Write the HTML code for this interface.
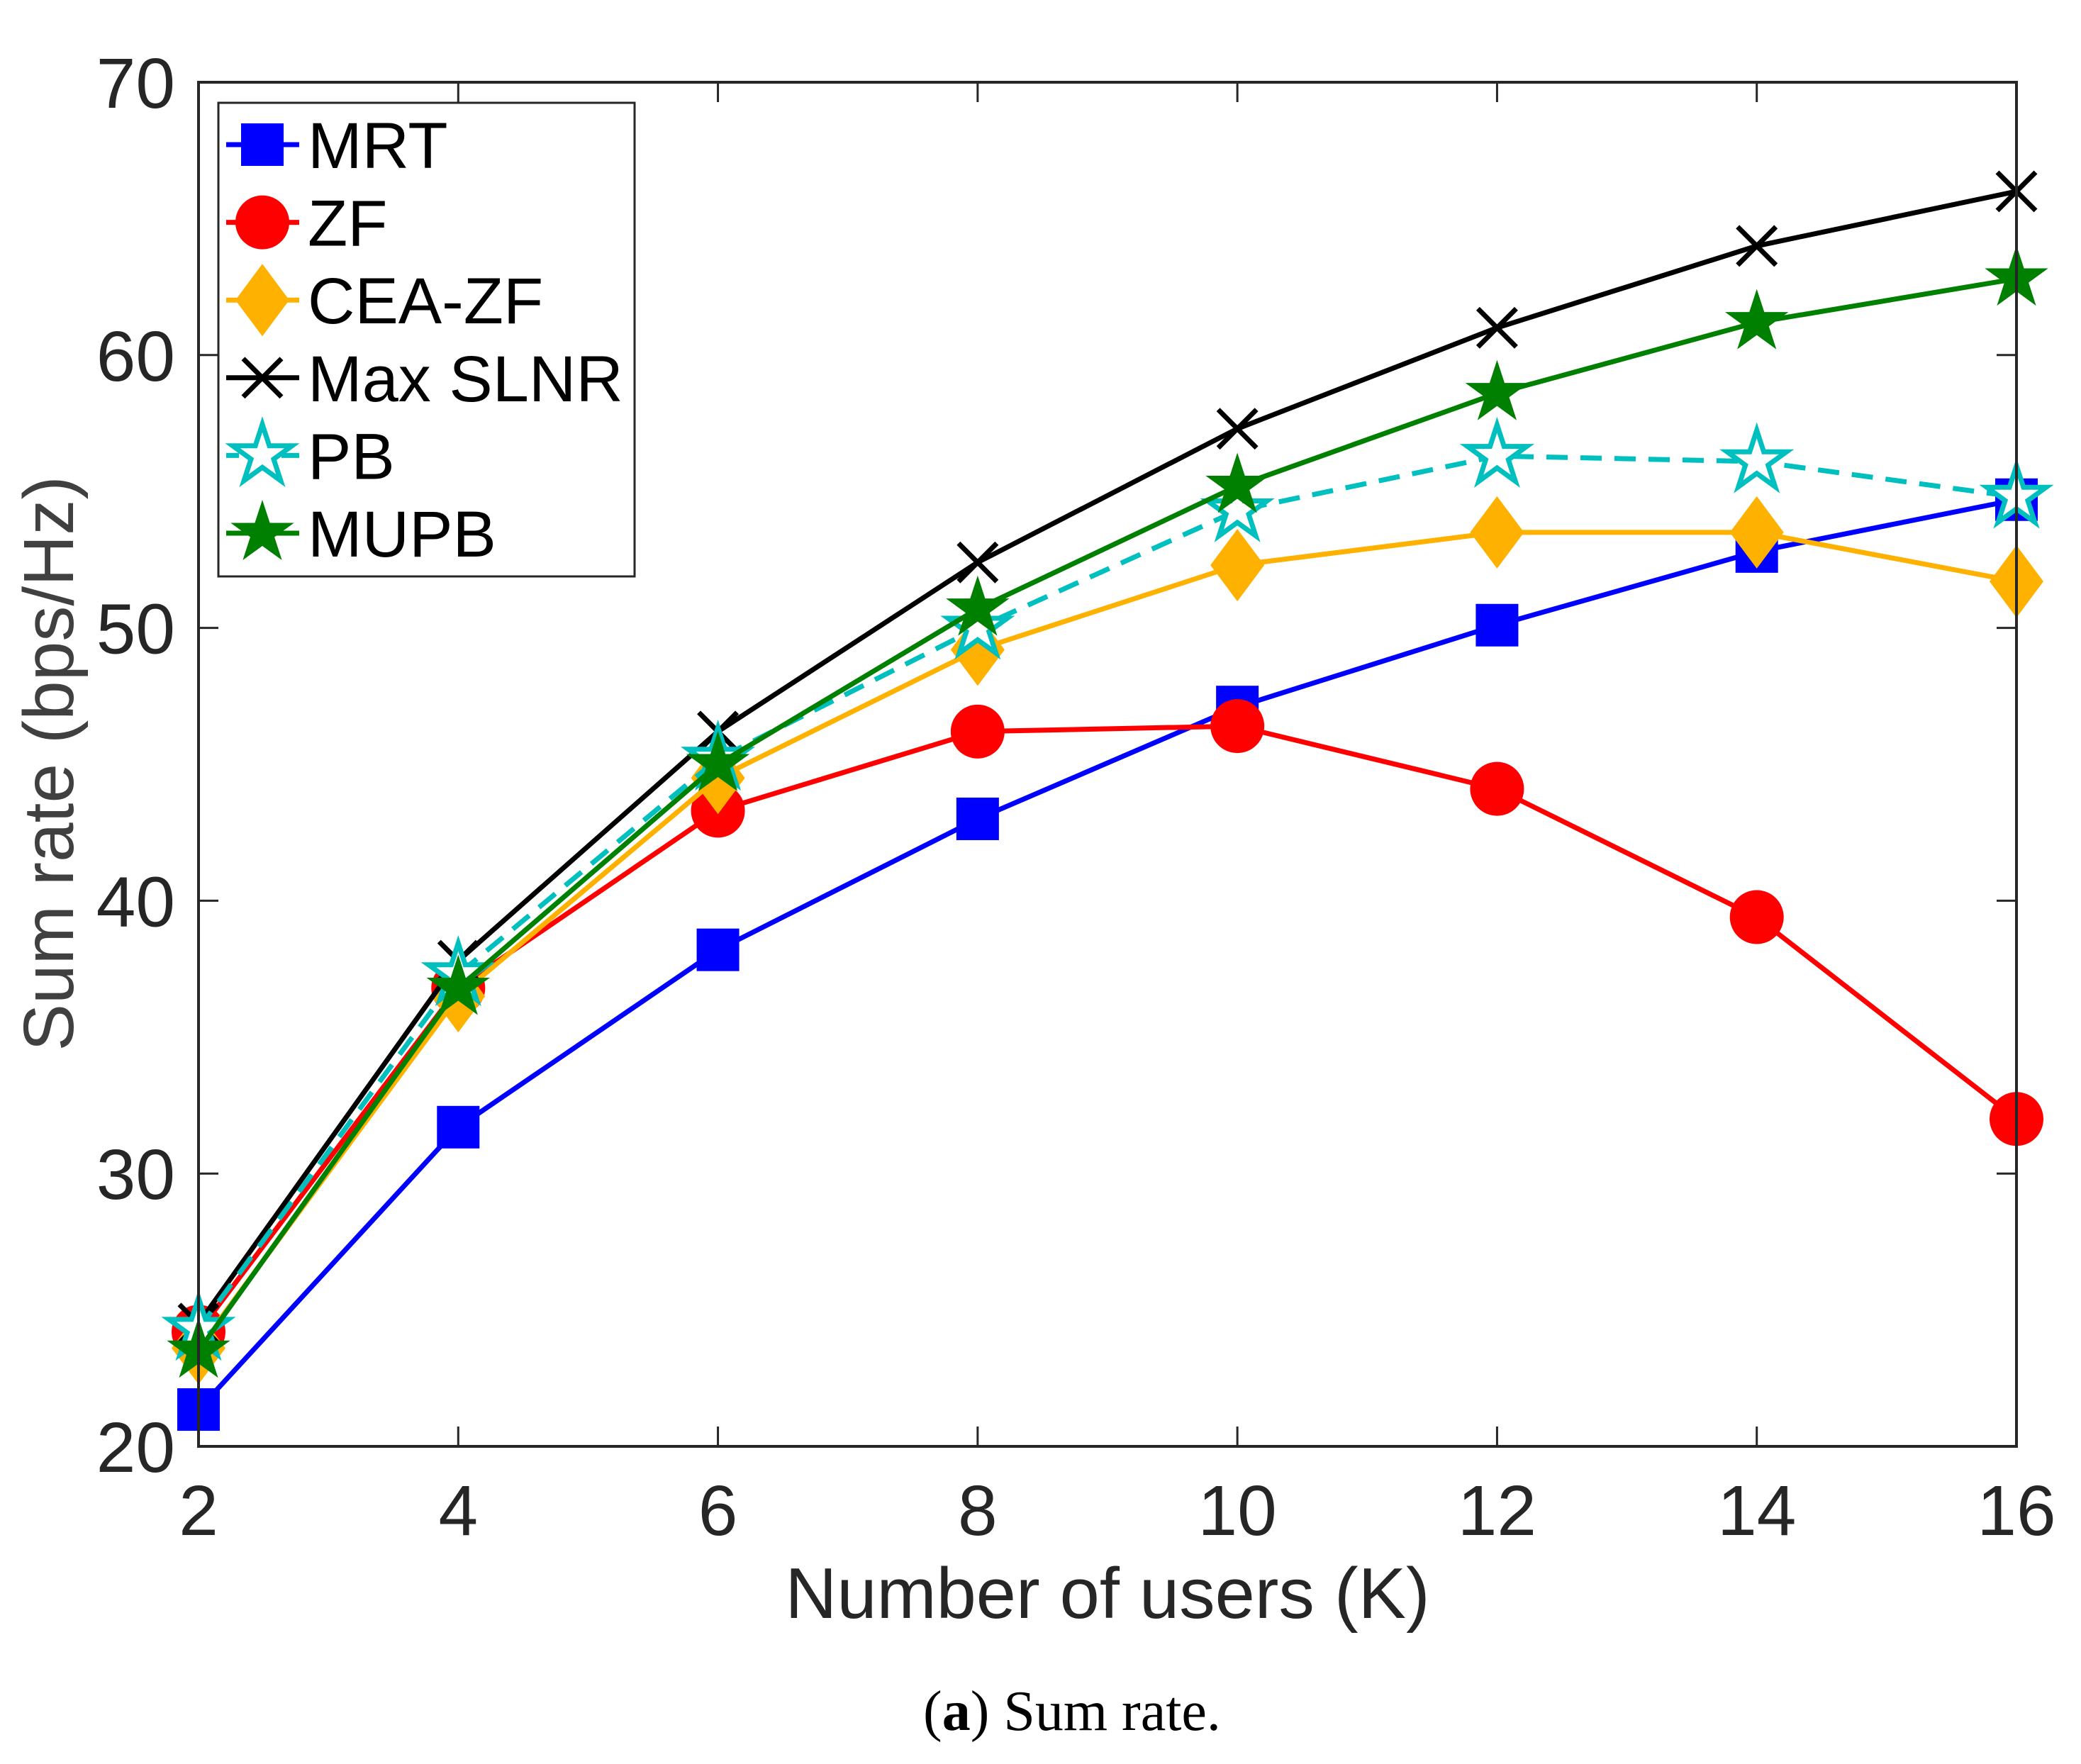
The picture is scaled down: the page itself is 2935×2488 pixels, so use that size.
<!DOCTYPE html>
<html><head><meta charset="utf-8"><style>
html,body{margin:0;padding:0;background:#fff;}
svg{display:block;}
</style></head><body>
<svg id="chart" xmlns="http://www.w3.org/2000/svg" width="2935" height="2488" viewBox="0 0 2935 2488">
<rect x="0" y="0" width="2935" height="2488" fill="#fff"/>
<g id="plot"></g>
<g id="axes"></g>
<text transform="translate(103,1077) rotate(-90)" text-anchor="middle" font-family="Liberation Sans, sans-serif" font-size="100" fill="#404040">Sum rate (bps/Hz)</text>
<text x="1562" y="2282" text-anchor="middle" font-family="Liberation Sans, sans-serif" font-size="101" fill="#262626">Number of users (K)</text>
<text x="1512" y="2440" text-anchor="middle" font-family="Liberation Serif, serif" font-size="80" fill="#000">(<tspan font-weight="bold">a</tspan>) Sum rate.</text>
<g id="legend"></g>
</svg>
<script>
const categories = [2, 4, 6, 8, 10, 12, 14, 16];
const xTicks = ["2","4","6","8","10","12","14","16"];
const yTicks = ["20","30","40","50","60","70"];
const seriesNames = ["MRT","ZF","CEA-ZF","Max SLNR","PB","MUPB"];
const mrtValues = [21.35, 31.7, 38.2, 43.0, 47.1, 50.1, 52.8, 54.7];
const zfValues = [24.2, 36.8, 43.3, 46.2, 46.4, 44.1, 39.4, 32.0];
const ceaValues = [23.6, 36.5, 44.5, 49.2, 52.3, 53.5, 53.5, 51.7];
const slnrValues = [24.5, 37.8, 46.2, 52.4, 57.3, 61.0, 64.0, 66.0];
const pbValues = [24.3, 37.3, 45.2, 50.0, 54.3, 56.3, 56.1, 54.8];
const mupbValues = [23.5, 36.8, 45.0, 50.7, 55.2, 58.6, 61.2, 62.8];

const NS = "http://www.w3.org/2000/svg";
const L = 280, R = 2844, T = 116, B = 2040;
const xMin = 2, xMax = 16, yMin = 20, yMax = 70;
function xs(v){ return L + (v - xMin) / (xMax - xMin) * (R - L); }
function ys(v){ return B - (v - yMin) / (yMax - yMin) * (B - T); }
function mk(tag, attrs, parent){ const e = document.createElementNS(NS, tag); for (const k in attrs) e.setAttribute(k, attrs[k]); parent.appendChild(e); return e; }

const styles = [
  {color:"#0000ff", marker:"square", dash:null},
  {color:"#ff0000", marker:"circle", dash:null},
  {color:"#ffb100", marker:"diamond", dash:null},
  {color:"#000000", marker:"x", dash:null},
  {color:"#00bfbf", marker:"pstar", dash:"30 18"},
  {color:"#008000", marker:"star", dash:null}
];
const allValues = [mrtValues, zfValues, ceaValues, slnrValues, pbValues, mupbValues];

function starPts(cx, cy, r){
  const pts = [];
  for (let i = 0; i < 10; i++){
    const rr = i % 2 === 0 ? r : r * 0.382;
    const a = -Math.PI / 2 + i * Math.PI / 5;
    pts.push((cx + rr * Math.cos(a)).toFixed(1) + "," + (cy + rr * Math.sin(a)).toFixed(1));
  }
  return pts.join(" ");
}
function drawMarker(type, cx, cy, color, parent){
  let e;
  if (type === "square") e = mk("rect", {x:cx-30, y:cy-30, width:60, height:60, fill:color}, parent);
  else if (type === "circle") e = mk("circle", {cx:cx, cy:cy, r:38, fill:color}, parent);
  else if (type === "diamond") e = mk("polygon", {points:`${cx},${cy-51} ${cx+38},${cy} ${cx},${cy+51} ${cx-38},${cy}`, fill:color}, parent);
  else if (type === "x") e = mk("path", {d:`M${cx-27},${cy-27}L${cx+27},${cy+27}M${cx+27},${cy-27}L${cx-27},${cy+27}`, stroke:color, "stroke-width":7, fill:"none"}, parent);
  else if (type === "star") e = mk("polygon", {points:starPts(cx, cy, 47), fill:color}, parent);
  else e = mk("polygon", {points:starPts(cx, cy, 44), fill:"#fff", stroke:color, "stroke-width":7}, parent);
  return e;
}

const plot = document.getElementById("plot");
allValues.forEach((vals, si) => {
  const st = styles[si];
  const g = mk("g", {}, plot);
  
  
  const d = vals.map((v, i) => (i ? "L" : "M") + xs(categories[i]).toFixed(1) + "," + ys(v).toFixed(1)).join("");
  const p = mk("path", {d:d, fill:"none", stroke:st.color, "stroke-width":7, "stroke-linejoin":"round"}, g);
  if (st.dash) p.setAttribute("stroke-dasharray", st.dash);
  
  
  vals.forEach((v, i) => {
    const m = drawMarker(st.marker, xs(categories[i]), ys(v), st.color, g);
    
    
  });
});

const axes = document.getElementById("axes");
const frame = mk("rect", {x:L, y:T, width:R-L, height:B-T, fill:"none", stroke:"#262626", "stroke-width":4}, axes);


xTicks.forEach((lab, i) => {
  const x = xs(categories[i]);
  const t = mk("path", {d:`M${x},${B}v-28M${x},${T}v28`, stroke:"#262626", "stroke-width":3}, axes);
  
  
  const tx = mk("text", {x:x, y:2165, "text-anchor":"middle", "font-family":"Liberation Sans, sans-serif", "font-size":100, fill:"#262626"}, axes);
  tx.textContent = lab;
  
  
});
yTicks.forEach((lab) => {
  const y = ys(parseFloat(lab));
  const t = mk("path", {d:`M${L},${y}h28M${R},${y}h-28`, stroke:"#262626", "stroke-width":3}, axes);
  
  
  const tx = mk("text", {x:247, y:y+36, "text-anchor":"end", "font-family":"Liberation Sans, sans-serif", "font-size":100, fill:"#262626"}, axes);
  tx.textContent = lab;
  
  
});

const legend = document.getElementById("legend");
const lb = mk("rect", {x:308, y:145, width:587, height:668, fill:"#fff", stroke:"#262626", "stroke-width":3}, legend);


seriesNames.forEach((name, i) => {
  const st = styles[i];
  const cy = 204 + i * 109.6;
  const g = mk("g", {}, legend);
  
  
  const ln = mk("path", {d:`M319,${cy}H422`, stroke:st.color, "stroke-width":7}, g);
  if (st.dash) ln.setAttribute("stroke-dasharray", "18 60 30");
  drawMarker(st.marker, 370, cy, st.color, g);
  const tx = mk("text", {x:434, y:cy+33, "font-family":"Liberation Sans, sans-serif", "font-size":92, fill:"#000"}, g);
  tx.textContent = name;
});
</script>
</body></html>
